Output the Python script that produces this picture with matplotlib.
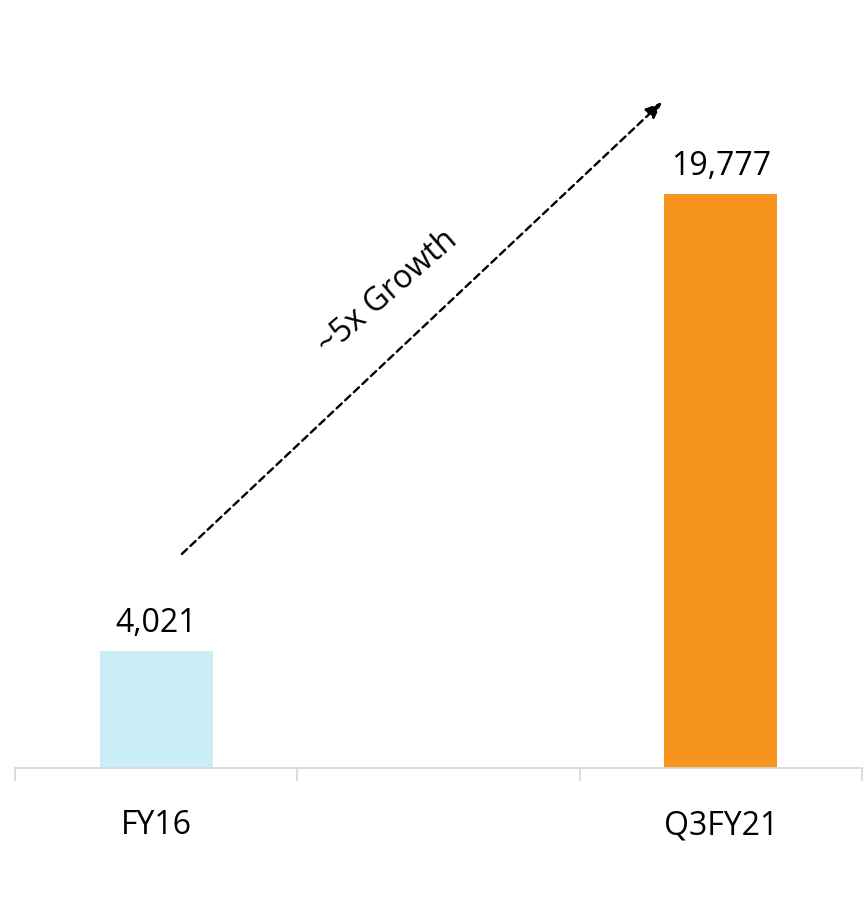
import matplotlib.pyplot as plt
import numpy as np

# data
categories = ["FY16", "", "Q3FY21"]
values = [4021, np.nan, 19777]
bar_colors = ["#C9EEF6", "#FFFFFF", "#F7941D"]
growth_label = "~5x Growth"

plt.rcParams["font.family"] = ["Open Sans", "DejaVu Sans"]

fig = plt.figure(figsize=(8.68, 9.04), dpi=100)
ax = fig.add_axes([15 / 868, (904 - 769) / 904, 847 / 868, 729 / 904])

x = np.arange(len(categories))
for xi, val, col in zip(x, values, bar_colors):
    if np.isnan(val):
        continue
    ax.bar(xi, val, width=0.4, color=col, zorder=2)
    ax.annotate(f"{val:,.0f}", (xi, val), xytext=(0, 9), textcoords="offset points",
                ha="center", va="bottom", fontsize=23, color="#000000")

ax.set_xlim(-0.5, len(categories) - 0.5)
ax.set_ylim(0, 25118)

ax.set_xticks(x)
ax.set_xticklabels(categories, fontsize=23)
ax.tick_params(axis="x", which="major", length=0, pad=29)
ax.set_xticks(np.arange(len(categories) + 1) - 0.5, minor=True)
ax.tick_params(axis="x", which="minor", length=9, width=1.3, color="#D9D9D9", direction="out")
ax.set_yticks([])

for side in ["top", "right", "left"]:
    ax.spines[side].set_visible(False)
ax.spines["bottom"].set_color("#D9D9D9")
ax.spines["bottom"].set_linewidth(1.3)

# dashed growth arrow
ax.annotate("", xy=(0.764, 0.9136), xytext=(0.197, 0.2936), xycoords="axes fraction",
            arrowprops=dict(arrowstyle="-|>,head_length=1.0,head_width=0.4", color="black",
                            lw=1.7, linestyle=(0, (3, 2)), shrinkA=0, shrinkB=0))
ax.text(0.44, 0.653, growth_label, transform=ax.transAxes, rotation=41,
        rotation_mode="anchor", ha="center", va="center", fontsize=23)

fig.savefig("out.png", dpi=100)
